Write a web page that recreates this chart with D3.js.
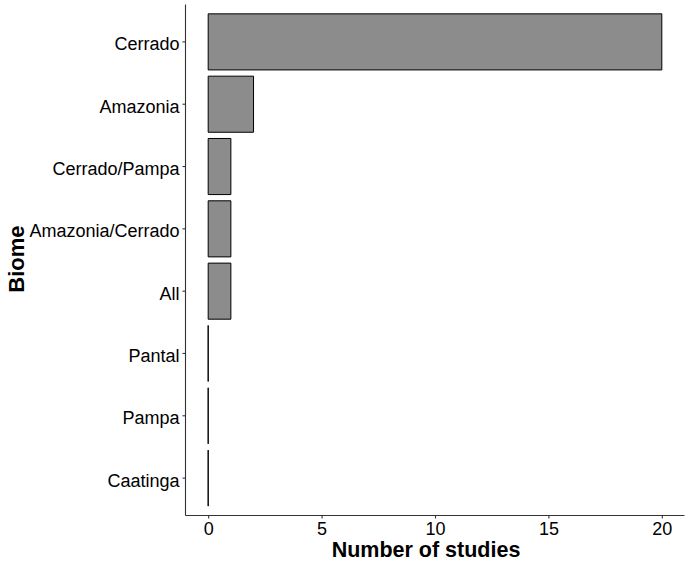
<!DOCTYPE html>
<html><head><meta charset="utf-8">
<script src="https://cdn.jsdelivr.net/npm/d3@7"></script>
<style>body{margin:0;background:#fff}svg{display:block}text{font-family:"Liberation Sans",Arial,sans-serif}</style>
</head><body>
<script>
const categories = ["Cerrado","Amazonia","Cerrado/Pampa","Amazonia/Cerrado","All","Pantal","Pampa","Caatinga"];
const studies = [20,2,1,1,1,0,0,0];
const xTicks = [0,5,10,15,20];

const W=690,H=567;
const panel={left:185.5,right:684.5,top:4.5,bottom:515.5};
const svg=d3.select("body").append("svg").attr("width",W).attr("height",H);

const x=d3.scaleLinear().domain([-1,21]).range([panel.left,panel.right]);
const y=d3.scaleBand().domain(categories).range([panel.top,panel.bottom]).paddingInner(0.1).paddingOuter(0.15);

const data=categories.map((c,i)=>({c,v:studies[i]}));
svg.append("g").selectAll("path").data(data).join("path")
  .attr("d",d=>{const p=d3.path();const x0=x(0),x1=x(d.v),y0=y(d.c),y1=y0+y.bandwidth();
    p.moveTo(x0,y0);p.lineTo(x1,y0);p.lineTo(x1,y1);p.lineTo(x0,y1);p.closePath();return p.toString();})
  .attr("fill","#8c8c8c").attr("stroke","#000").attr("stroke-width",1);

// axes
const xa=svg.append("g").attr("transform",`translate(0,${panel.bottom})`)
  .call(d3.axisBottom(x).tickValues(xTicks).tickSize(3).tickSizeOuter(0).tickPadding(4));
const ya=svg.append("g").attr("transform",`translate(${panel.left},0)`)
  .call(d3.axisLeft(y).tickSize(3).tickSizeOuter(0).tickPadding(3));
[xa,ya].forEach(a=>{
  a.select(".domain").attr("stroke","#333").attr("stroke-width",1.1);
  a.selectAll(".tick line").attr("stroke","#333").attr("stroke-width",1.1);
  a.selectAll(".tick text").attr("fill","#000").style("font-size","18px");
});
xa.select(".domain").attr("d",`M${panel.left},0H${panel.right}`);
ya.select(".domain").attr("d",`M0,${panel.top}V${panel.bottom}`);
ya.selectAll(".tick text").attr("dy",null).attr("y",8.5);
xa.selectAll(".tick text").attr("dy",null).attr("y",19.5);

svg.append("text").attr("x",426).attr("y",556.5).attr("text-anchor","middle")
  .style("font-size","21.5px").style("font-weight","bold").text("Number of studies");
svg.append("text").attr("transform","translate(24,259) rotate(-90)").attr("text-anchor","middle")
  .style("font-size","22px").style("font-weight","bold").text("Biome");
</script>
</body></html>
